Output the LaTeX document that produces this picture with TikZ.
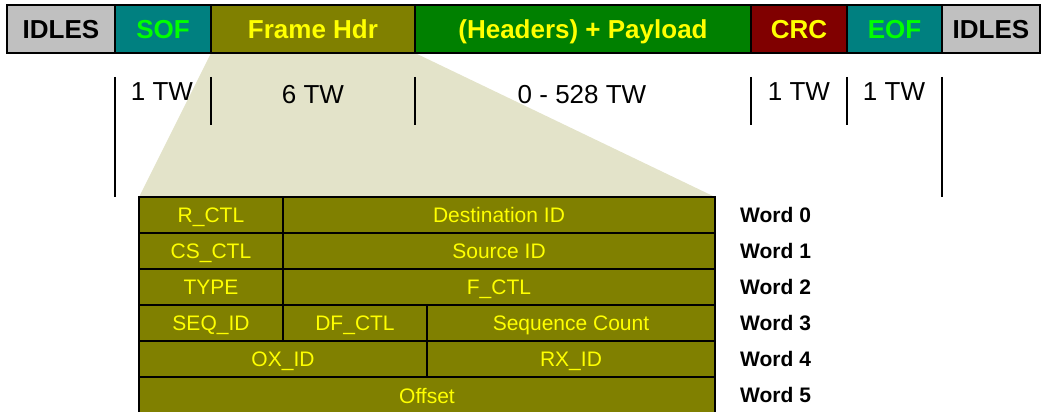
\documentclass[tikz,border=0pt]{standalone}
\usepackage{fontspec}
\setmainfont{Liberation Sans}
\usetikzlibrary{backgrounds}
\definecolor{idlegray}{HTML}{C0C0C0}
\definecolor{tealc}{HTML}{008080}
\definecolor{olivec}{HTML}{808000}
\definecolor{greenc}{HTML}{008000}
\definecolor{maroonc}{HTML}{800000}
\definecolor{shadec}{HTML}{E3E3C9}
\definecolor{yel}{HTML}{FFFF00}
\definecolor{lime}{HTML}{00FF00}
\tikzset{
  barcell/.style={draw=black, line width=1.6pt, inner sep=0pt, outer sep=0pt,
    minimum height=48pt, text height=18.5pt, text depth=0pt,
    font=\fontsize{26}{30}\selectfont\bfseries},
  tabcell/.style={draw=black, line width=1.6pt, fill=olivec, text=yel, inner sep=0pt, outer sep=0pt,
    minimum height=36pt, text height=15pt, text depth=0pt,
    font=\fontsize{21}{25}\selectfont},
  twlabel/.style={inner sep=0pt, text height=18.5pt, text depth=0pt, font=\fontsize{26}{30}\selectfont},
  wordlabel/.style={inner sep=0pt, anchor=west, text height=15pt, text depth=0pt, font=\fontsize{21}{25}\selectfont\bfseries},
  tick/.style={draw=black, line width=1.6pt}
}
\begin{document}
\begin{tikzpicture}[x=1pt,y=-1pt]
\useasboundingbox (0,0) rectangle (1047,412);
% top bar
\node[barcell, fill=idlegray, text=black, minimum width=108pt] (idl1) at (61,29) {IDLES};
\node[barcell, fill=tealc, text=lime, minimum width=96pt] (sof) at (163,29) {SOF};
\node[barcell, fill=olivec, text=yel, minimum width=204pt] (fh) at (313,29) {Frame Hdr};
\node[barcell, fill=greenc, text=yel, minimum width=336pt] (pl) at (583,29) {(Headers) + Payload};
\node[barcell, fill=maroonc, text=yel, minimum width=96pt] (crc) at (799,29) {CRC};
\node[barcell, fill=tealc, text=lime, minimum width=95pt] (eof) at (894.5,29) {EOF};
\node[barcell, fill=idlegray, text=black, minimum width=98pt] (idl2) at (991,29) {IDLES};
% ticks
\coordinate (a1) at (115,77); \coordinate (a2) at (115,197);
\coordinate (b1) at (211,77); \coordinate (b2) at (211,125);
\coordinate (c1) at (415,77); \coordinate (c2) at (415,125);
\coordinate (d1) at (751,77); \coordinate (d2) at (751,125);
\coordinate (e1) at (847,77); \coordinate (e2) at (847,125);
\coordinate (f1) at (942,77); \coordinate (f2) at (942,197);
\draw[tick] (a1) -- (a2);
\draw[tick] (b1) -- (b2);
\draw[tick] (c1) -- (c2);
\draw[tick] (d1) -- (d2);
\draw[tick] (e1) -- (e2);
\draw[tick] (f1) -- (f2);
\node[twlabel] (tw1) at (162,91) {1 TW};
\node[twlabel] (tw6) at (313,94) {6 TW};
\node[twlabel] (twp) at (582,94) {0 - 528 TW};
\node[twlabel] (twc) at (799,91) {1 TW};
\node[twlabel] (twe) at (894,91) {1 TW};
% table
\node[tabcell, minimum width=144pt] (rctl) at (211,215) {R\_CTL};
\node[tabcell, minimum width=432pt] (dest) at (499,215) {Destination ID};
\node[tabcell, minimum width=144pt] (csctl) at (211,251) {CS\_CTL};
\node[tabcell, minimum width=432pt] (src) at (499,251) {Source ID};
\node[tabcell, minimum width=144pt] (type) at (211,287) {TYPE};
\node[tabcell, minimum width=432pt] (fctl) at (499,287) {F\_CTL};
\node[tabcell, minimum width=144pt] (seqid) at (211,323) {SEQ\_ID};
\node[tabcell, minimum width=144pt] (dfctl) at (355,323) {DF\_CTL};
\node[tabcell, minimum width=288pt] (seqcnt) at (571,323) {Sequence Count};
\node[tabcell, minimum width=288pt] (oxid) at (283,359) {OX\_ID};
\node[tabcell, minimum width=288pt] (rxid) at (571,359) {RX\_ID};
\node[tabcell, minimum width=576pt, minimum height=38pt] (offset) at (427,396) {Offset};
% word labels
\node[wordlabel] (w0) at (740,215) {Word 0};
\node[wordlabel] (w1) at (740,251) {Word 1};
\node[wordlabel] (w2) at (740,287) {Word 2};
\node[wordlabel] (w3) at (740,323) {Word 3};
\node[wordlabel] (w4) at (740,359) {Word 4};
\node[wordlabel] (w5) at (740,395) {Word 5};
% zoom shade
\begin{scope}[on background layer]
\fill[shadec] (fh.south west) -- (fh.south east) -- (dest.north east) -- (rctl.north west) -- cycle;
\end{scope}
\end{tikzpicture}
\end{document}
